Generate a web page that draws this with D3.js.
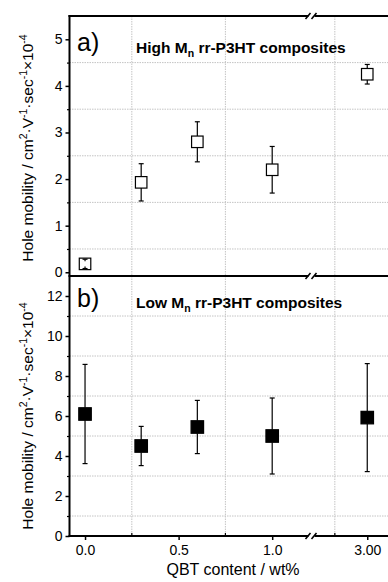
<!DOCTYPE html>
<html><head><meta charset="utf-8">
<script src="https://cdn.jsdelivr.net/npm/d3@7"></script>
<style>body{margin:0;background:#fff}svg{display:block}text{font-family:"Liberation Sans",Arial,sans-serif;fill:#000}</style>
</head><body><svg id="c" width="388" height="582"></svg>
<script>
// ---- data ----
const qbt = [0.0, 0.3, 0.6, 1.0, 3.0];
const highMn = [0.18, 1.93, 2.80, 2.20, 4.25];
const highErr = [0.10, 0.40, 0.43, 0.50, 0.21];
const lowMn = [6.10, 4.50, 5.45, 5.00, 5.92];
const lowErr = [2.48, 0.98, 1.33, 1.90, 2.70];
const xTicksA = [0.0, 0.5, 1.0];
const xTicksB = [3.0];
const xMinor = [0.25, 0.75, 2.75];
const yTicksHigh = [0, 1, 2, 3, 4, 5];
const yMinorHigh = [0.5, 1.5, 2.5, 3.5, 4.5];
const yTicksLow = [0, 2, 4, 6, 8, 10, 12];
const yMinorLow = [1, 3, 5, 7, 9, 11];

const svg = d3.select("#c");
const L = 69.5, R = 388, Tp = 16, Mid = 276, Bt = 536, Brk = 311.5;

const x1 = d3.scaleLinear().domain([-0.083, 1.21]).range([L, Brk]);
const x2 = d3.scaleLinear().domain([2.57, 3.16]).range([Brk, R]);
const xp = v => v < 2 ? x1(v) : x2(v);
const yA = d3.scaleLinear().domain([-0.08, 5.5]).range([Mid, Tp]);
const yB = d3.scaleLinear().domain([0, 13]).range([Bt, Mid]);

// grid
const grid = svg.append("g").attr("stroke", "#c4c4c4").attr("stroke-width", 1).attr("stroke-dasharray", "1.5,1");
xMinor.forEach(v => grid.append("line").attr("x1", xp(v)).attr("x2", xp(v)).attr("y1", Tp).attr("y2", Bt));
yMinorHigh.forEach(v => grid.append("line").attr("x1", L).attr("x2", R).attr("y1", yA(v)).attr("y2", yA(v)));
yMinorLow.forEach(v => grid.append("line").attr("x1", L).attr("x2", R).attr("y1", yB(v)).attr("y2", yB(v)));

// y axes
function yAxis(scale, major, minor) {
  const g = svg.append("g").attr("transform", `translate(${L},0)`);
  g.call(d3.axisLeft(scale).tickValues(major).tickSize(4).tickPadding(3).tickFormat(d3.format("d")));
  g.select(".domain").remove();
  g.selectAll("text").attr("font-size", 14).style("font-family", "Liberation Sans, Arial, sans-serif");
  g.selectAll("line").attr("stroke-width", 1.5);
  const m = svg.append("g").attr("transform", `translate(${L},0)`);
  m.call(d3.axisLeft(scale).tickValues(minor).tickSize(2.5).tickFormat(""));
  m.select(".domain").remove();
  m.selectAll("line").attr("stroke-width", 1.2);
}
yAxis(yA, yTicksHigh, yMinorHigh);
yAxis(yB, yTicksLow, yMinorLow);

// x axis (bottom)
function xAxis(scale, ticks, fmt) {
  const g = svg.append("g").attr("transform", `translate(0,${Bt})`);
  g.call(d3.axisBottom(scale).tickValues(ticks).tickSize(4).tickPadding(5).tickFormat(d3.format(fmt)));
  g.select(".domain").remove();
  g.selectAll("text").attr("font-size", 14).style("font-family", "Liberation Sans, Arial, sans-serif");
  g.selectAll("line").attr("stroke-width", 1.5);
}
xAxis(x1, xTicksA, ".1f");
xAxis(x2, xTicksB, ".2f");
const mt = svg.append("g").attr("stroke", "#000").attr("stroke-width", 1.2);
xMinor.forEach(v => mt.append("line").attr("x1", xp(v)).attr("x2", xp(v)).attr("y1", Bt).attr("y2", Bt - 3));

// frame
const fr = svg.append("g").attr("stroke", "#000").attr("stroke-width", 2).attr("fill", "none");
[Tp, Mid, Bt].forEach(y => {
  fr.append("line").attr("x1", L - 1).attr("x2", Brk - 3).attr("y1", y).attr("y2", y);
  fr.append("line").attr("x1", Brk + 3).attr("x2", R).attr("y1", y).attr("y2", y);
  fr.append("line").attr("x1", Brk - 6).attr("x2", Brk - 1).attr("y1", y + 3).attr("y2", y - 3).attr("stroke-width", 1.6);
  fr.append("line").attr("x1", Brk + 0).attr("x2", Brk + 5).attr("y1", y + 3).attr("y2", y - 3).attr("stroke-width", 1.6);
});
fr.append("line").attr("x1", L).attr("x2", L).attr("y1", Tp - 1).attr("y2", Bt + 1);

// data marks
function series(vals, errs, scale, fill, size) {
  const g = svg.append("g");
  const half = size / 2;
  vals.forEach((v, i) => {
    const cx = xp(qbt[i]), cy = scale(v);
    const yt = scale(v + errs[i]), yb = scale(v - errs[i]);
    const eb = g.append("g").attr("stroke", "#000").attr("stroke-width", 1.2);
    const topEdge = cy - half, botEdge = cy + half;
    if (yt < topEdge) eb.append("line").attr("x1", cx).attr("x2", cx).attr("y1", yt).attr("y2", topEdge);
    else eb.append("line").attr("x1", cx).attr("x2", cx).attr("y1", yt).attr("y2", yt + 2);
    if (yb > botEdge) eb.append("line").attr("x1", cx).attr("x2", cx).attr("y1", botEdge).attr("y2", yb);
    else eb.append("line").attr("x1", cx).attr("x2", cx).attr("y1", yb).attr("y2", yb - 2);
    g.insert("rect", ":first-child").attr("x", cx - half).attr("y", cy - half).attr("width", size).attr("height", size)
      .attr("fill", fill).attr("stroke", "#000").attr("stroke-width", 1.2);
    eb.append("line").attr("x1", cx - 2.5).attr("x2", cx + 2.5).attr("y1", yt).attr("y2", yt);
    eb.append("line").attr("x1", cx - 2.5).attr("x2", cx + 2.5).attr("y1", yb).attr("y2", yb);
  });
}
series(highMn, highErr, yA, "#fff", 11.5);
series(lowMn, lowErr, yB, "#000", 12.5);

// panel labels
svg.append("text").attr("x", 77).attr("y", 51).attr("font-size", 25).text("a)");
svg.append("text").attr("x", 77).attr("y", 307).attr("font-size", 25).text("b)");

function title(y, first) {
  const t = svg.append("text").attr("x", 136).attr("y", y).attr("font-size", 15.5).attr("font-weight", "bold");
  t.append("tspan").text(first + " M");
  t.append("tspan").attr("dy", 4).attr("font-size", 10.5).text("n");
  t.append("tspan").attr("dy", -4).text(" rr-P3HT composites");
}
title(53, "High");
title(308, "Low");

function ylab(cy) {
  const t = svg.append("text").attr("transform", `translate(33,${cy}) rotate(-90)`).attr("text-anchor", "middle").attr("font-size", 15.5);
  const parts = [["Hole mobility / cm", 0], ["2", 1], ["\u00b7V", 0], ["-1", 1], ["\u00b7sec", 0], ["-1", 1], ["\u00d710", 0], ["-4", 1]];
  let sup = false;
  parts.forEach(([s, isSup]) => {
    const ts = t.append("tspan").text(s);
    if (isSup && !sup) { ts.attr("dy", -6).attr("font-size", 10.5); sup = true; }
    else if (isSup) { ts.attr("font-size", 10.5); }
    else if (sup) { ts.attr("dy", 6); sup = false; }
  });
}
ylab(148);
ylab(416);

svg.append("text").attr("x", 233).attr("y", 575).attr("text-anchor", "middle").attr("font-size", 16).text("QBT content / wt%");
</script></body></html>
